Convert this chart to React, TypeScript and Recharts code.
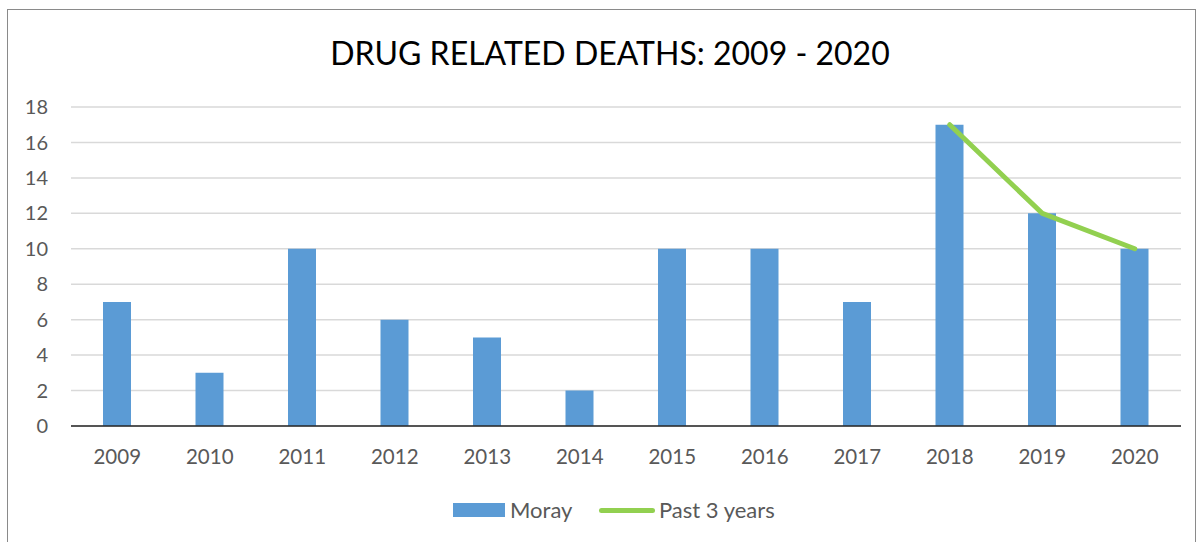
import React from "react";
import { ComposedChart, Bar, Line, XAxis, YAxis, CartesianGrid } from "recharts";

const years = ["2009", "2010", "2011", "2012", "2013", "2014", "2015", "2016", "2017", "2018", "2019", "2020"];
const moray = [7, 3, 10, 6, 5, 2, 10, 10, 7, 17, 12, 10];
const past3: (number | null)[] = [null, null, null, null, null, null, null, null, null, 17, 12, 10];
const yTicks = [0, 2, 4, 6, 8, 10, 12, 14, 16, 18];

const data = years.map((y, i) => ({ year: y, moray: moray[i], past3: past3[i] }));

const FONT = "Lato, 'Open Sans', sans-serif";
const TEXT = "#595959";

export default function App() {
  return (
    <div style={{ position: "absolute", left: 0, top: 0, width: 1199, height: 542, background: "#fff", overflow: "hidden", fontFamily: FONT }}>
      <div style={{ position: "absolute", left: 7, top: 9, width: 1189, height: 560, border: "1.5px solid #8a8a8a", boxSizing: "border-box" }} />
      <div style={{ position: "absolute", left: 0, top: 33, width: 1220, textAlign: "center", fontSize: 32, color: "#000", lineHeight: "40px" }}>
        DRUG RELATED DEATHS: 2009 - 2020
      </div>
      <div style={{ position: "absolute", left: 0, top: 0 }}>
        <ComposedChart width={1199} height={542} data={data} margin={{ top: 107, right: 18, bottom: 86, left: 0 }} barSize={28}>
          <CartesianGrid vertical={false} stroke="#D9D9D9" strokeWidth={1.5} />
          <XAxis
            dataKey="year"
            height={30}
            tickLine={false}
            tickSize={0}
            tickMargin={23}
            axisLine={{ stroke: "#262626", strokeWidth: 1.5 }}
            tick={{ fill: TEXT, fontSize: 20.5, fontFamily: FONT }}
          />
          <YAxis
            width={71}
            domain={[0, 18]}
            ticks={yTicks}
            interval={0}
            axisLine={false}
            tickLine={false}
            tickSize={0}
            tickMargin={23}
            tick={{ fill: TEXT, fontSize: 20, fontFamily: FONT }}
          />
          <Bar dataKey="moray" name="Moray" fill="#5B9BD5" isAnimationActive={false} />
          <Line
            dataKey="past3"
            name="Past 3 years"
            stroke="#92D050"
            strokeWidth={5}
            strokeLinecap="round"
            dot={false}
            activeDot={false}
            connectNulls={false}
            isAnimationActive={false}
          />
        </ComposedChart>
      </div>
      <div style={{ position: "absolute", left: 453, top: 503, width: 52, height: 14, background: "#5B9BD5" }} />
      <div style={{ position: "absolute", left: 510, top: 497, fontSize: 22, color: TEXT, lineHeight: "26px" }}>Moray</div>
      <div style={{ position: "absolute", left: 599, top: 507.5, width: 56, height: 5, borderRadius: 3, background: "#92D050" }} />
      <div style={{ position: "absolute", left: 659, top: 497, fontSize: 22, color: TEXT, lineHeight: "26px" }}>Past 3 years</div>
    </div>
  );
}
